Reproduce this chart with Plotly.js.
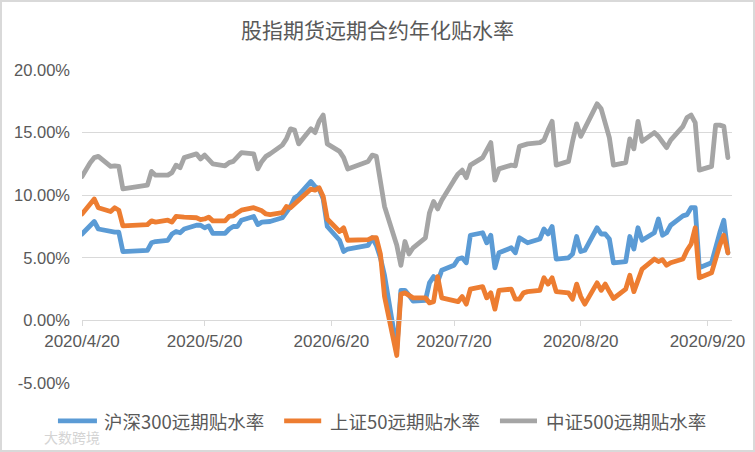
<!DOCTYPE html>
<html><head><meta charset="utf-8">
<script src="https://cdn.plot.ly/plotly-3.0.1.min.js"></script>
<style>
html,body{margin:0;padding:0;background:#fff;}
#wrap{width:755px;height:452px;box-sizing:border-box;border:2px solid #d9d9d9;overflow:hidden;}
#chart{width:751px;height:448px;}
.js-line{stroke-linejoin:round;stroke-linecap:round;}
</style></head><body><div id="wrap"><div id="chart"></div></div>
<script>
const dates = ['2020-04-20','2020-04-21','2020-04-22','2020-04-23','2020-04-24','2020-04-27','2020-04-28','2020-04-29','2020-04-30',
'2020-05-06','2020-05-07','2020-05-08','2020-05-11','2020-05-12','2020-05-13','2020-05-14','2020-05-15','2020-05-18','2020-05-19','2020-05-20','2020-05-21','2020-05-22','2020-05-25','2020-05-26','2020-05-27','2020-05-28','2020-05-29',
'2020-06-01','2020-06-02','2020-06-03','2020-06-04','2020-06-05','2020-06-08','2020-06-09','2020-06-10','2020-06-11','2020-06-12','2020-06-15','2020-06-16','2020-06-17','2020-06-18','2020-06-19','2020-06-22','2020-06-23','2020-06-24','2020-06-29','2020-06-30',
'2020-07-01','2020-07-02','2020-07-03','2020-07-06','2020-07-07','2020-07-08','2020-07-09','2020-07-10','2020-07-13','2020-07-14','2020-07-15','2020-07-16','2020-07-17','2020-07-20','2020-07-21','2020-07-22','2020-07-23','2020-07-24','2020-07-27','2020-07-28','2020-07-29','2020-07-30','2020-07-31',
'2020-08-03','2020-08-04','2020-08-05','2020-08-06','2020-08-07','2020-08-10','2020-08-11','2020-08-12','2020-08-13','2020-08-14','2020-08-17','2020-08-18','2020-08-19','2020-08-20','2020-08-21','2020-08-24','2020-08-25','2020-08-26','2020-08-27','2020-08-28','2020-08-31',
'2020-09-01','2020-09-02','2020-09-03','2020-09-04','2020-09-07','2020-09-08','2020-09-09','2020-09-10','2020-09-11','2020-09-14','2020-09-15','2020-09-16','2020-09-17','2020-09-18','2020-09-21','2020-09-22','2020-09-23','2020-09-24','2020-09-25'];

// 沪深300远期贴水率 (%)
const hs300 = [6.9,7.2,7.5,7.9,7.3,7.05,7.05,7.05,5.5,
5.6,6.2,6.3,6.4,6.9,7.1,7.0,7.3,7.6,7.6,7.4,7.55,6.95,6.95,7.3,7.5,7.5,8.0,
8.3,7.65,7.85,7.9,7.9,8.2,8.7,9.1,9.8,10.0,11.1,10.7,10.5,9.7,7.5,6.4,5.5,5.7,6.0,6.6,
6.0,5.0,3.6,-2.3,2.4,2.4,2.0,1.55,1.6,3.0,3.5,3.1,4.0,4.4,4.9,5.0,4.6,6.8,7.0,6.2,6.8,4.2,5.4,
5.8,5.4,6.6,6.4,6.2,6.5,7.3,6.9,7.5,4.9,5.0,5.3,6.7,5.5,5.6,7.4,6.9,6.9,6.5,4.6,4.7,
6.7,5.7,7.4,6.4,7.0,8.1,6.8,7.0,7.6,8.35,8.45,9.0,9.0,4.2,4.6,6.0,7.0,8.0,5.4];

// 上证50远期贴水率 (%)
const sz50 = [8.5,8.9,9.3,9.7,9.0,8.7,9.0,8.8,7.55,
7.65,7.95,7.85,8.0,7.85,8.3,8.25,8.25,8.2,8.05,8.1,8.25,7.95,7.95,8.3,8.35,8.6,8.8,
9.0,8.9,8.75,8.5,8.45,8.6,9.1,9.0,9.3,9.5,10.5,10.4,10.6,9.9,8.1,7.1,7.4,6.4,6.45,6.6,
6.6,5.3,1.9,-2.8,2.1,2.2,2.05,1.8,1.8,1.4,1.5,3.5,1.8,1.5,1.5,1.9,1.3,2.5,2.7,1.8,2.2,0.9,2.4,
2.5,1.7,1.7,2.2,2.3,2.4,3.4,2.9,3.4,2.3,2.2,1.7,2.9,1.9,1.3,3.0,2.4,2.9,2.3,1.75,2.5,
3.6,2.3,3.2,4.1,4.9,4.7,4.85,4.4,4.6,4.9,5.6,6.1,7.4,3.4,3.8,5.0,6.0,6.8,5.4];

// 中证500远期贴水率 (%)
const zz500 = [11.5,12.1,12.6,13.0,13.1,12.3,12.35,12.3,10.5,
10.8,11.9,11.6,11.6,11.8,12.4,12.2,13.0,13.3,12.9,13.2,12.8,12.5,12.35,12.6,12.7,13.1,13.4,
13.3,12.1,12.7,13.1,13.3,14.0,14.5,15.3,15.2,14.1,15.3,15.0,15.9,16.4,14.1,13.5,13.0,12.1,12.7,13.2,
13.1,11.2,9.1,6.0,4.4,6.3,5.3,5.8,6.6,8.6,9.5,8.9,9.6,11.2,11.7,12.0,11.4,12.4,13.0,13.6,14.2,11.2,12.1,
12.4,12.35,13.9,14.0,14.1,14.2,14.4,15.2,15.9,12.4,12.7,14.3,15.7,14.7,15.3,17.3,16.9,15.6,14.6,12.4,12.6,
14.5,13.7,15.9,14.3,15.0,14.7,14.25,13.8,14.4,15.5,16.2,16.4,15.8,12.0,12.3,15.6,15.6,15.5,13.0];

const seriesNames = ['沪深300远期贴水率','上证50远期贴水率','中证500远期贴水率'];
const seriesColors = ['#5B9BD5','#ED7D31','#A5A5A5'];
const xTickDates = ['2020-04-20','2020-05-20','2020-06-20','2020-07-20','2020-08-20','2020-09-20'];
const xTickLabels = ['2020/4/20','2020/5/20','2020/6/20','2020/7/20','2020/8/20','2020/9/20'];
const yTickVals = [-5,0,5,10,15,20];
const yTickLabels = ['-5.00%','0.00%','5.00%','10.00%','15.00%','20.00%'];
const chartTitle = '股指期货远期合约年化贴水率';
const watermark = '大数跨境';

const seriesData = [hs300, sz50, zz500];
const traces = seriesData.map((vals, i) => ({
  type:'scatter', mode:'lines', x:dates, y:vals, name:seriesNames[i],
  line:{color:seriesColors[i], width:4.8}, hoverinfo:'skip'
}));

// custom legend (paper coords)
const legLineX = [[-0.037,0.023],[0.311,0.368],[0.643,0.700]];
const legTextX = [0.031,0.379,0.710];
const legY = -0.121;
const shapes = legLineX.map((xx,i)=>({type:'line',xref:'paper',yref:'paper',x0:xx[0],x1:xx[1],y0:legY,y1:legY,line:{color:seriesColors[i],width:4.8}}));
const annotations = seriesNames.map((n,i)=>({xref:'paper',yref:'paper',x:legTextX[i],y:legY,xanchor:'left',yanchor:'middle',showarrow:false,text:n,font:{size:18.5,color:'#595959',family:'Noto Sans CJK SC, sans-serif'}}));
annotations.push({xref:'paper',yref:'paper',x:-0.062,y:-0.172,xanchor:'left',yanchor:'middle',showarrow:false,text:watermark,font:{size:14,color:'#d4d4d4',family:'Noto Sans CJK SC, sans-serif'}});

const layout = {
  width:751, height:448,
  margin:{l:80,r:21,t:68,b:67},
  paper_bgcolor:'#ffffff', plot_bgcolor:'#ffffff',
  font:{family:'Liberation Sans, Noto Sans CJK SC, sans-serif', color:'#595959', size:17},
  title:{text:chartTitle, font:{family:'Noto Sans CJK SC, sans-serif', size:21, color:'#595959'},
         x:0.5, xref:'container', xanchor:'center', y:1-29/448, yref:'container', yanchor:'middle'},
  showlegend:false,
  xaxis:{type:'date', range:['2020-04-20','2020-09-26'], anchor:'free', position:0.2,
         showline:true, linecolor:'#d9d9d9', linewidth:1, ticks:'outside', ticklen:5, tickcolor:'#d9d9d9',
         tickvals:xTickDates, ticktext:xTickLabels, showgrid:false, zeroline:false,
         tickfont:{size:17,color:'#595959'}, fixedrange:true},
  yaxis:{range:[-5,20], tickvals:yTickVals, ticktext:yTickLabels, showgrid:true, gridcolor:'#d9d9d9', gridwidth:1,
         zeroline:false, showline:false, ticks:'', ticklabelstandoff:11, tickfont:{size:16.5,color:'#595959'}, fixedrange:true},
  shapes:shapes, annotations:annotations
};
Plotly.newPlot('chart', traces, layout, {displayModeBar:false, staticPlot:true});
</script></body></html>
